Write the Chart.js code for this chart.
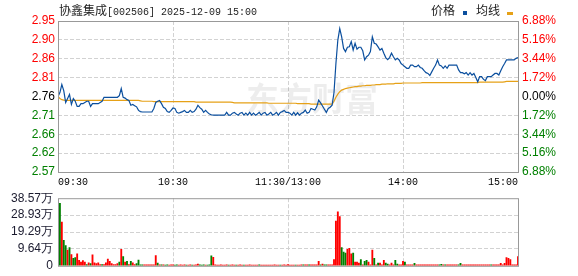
<!DOCTYPE html>
<html>
<head>
<meta charset="utf-8">
<script src="https://cdn.jsdelivr.net/npm/chart.js@4.4.1/dist/chart.umd.min.js"></script>
<style>
html, body { margin: 0; padding: 0; background: #fff; overflow: hidden; }
#wrap { position: relative; width: 578px; height: 276px; }
canvas { position: absolute; left: 0; }
#priceChart { top: 0; }
#volChart { top: 186px; }
.txt { position: absolute; white-space: nowrap; color: #222; font: 12px "Noto Sans CJK SC", sans-serif; line-height: 14px; }
.mono { font: 10px "Liberation Mono", monospace; }
.mark { position: absolute; }
</style>
</head>
<body>
<div id="wrap">
  <canvas id="priceChart" width="578" height="190"></canvas>
  <canvas id="volChart" width="578" height="92"></canvas>
  <div class="txt" style="left:59px;top:3px">协鑫集成<span class="mono">[002506] 2025-12-09 15:00</span></div>
  <div class="txt" style="left:431px;top:3px">价格</div>
  <div class="mark" style="left:463px;top:11px;width:4px;height:4px;background:#0b4f9e"></div>
  <div class="txt" style="left:476px;top:3px">均线</div>
  <div class="mark" style="left:507px;top:12px;width:6px;height:3px;background:#e6a117"></div>
</div>
<script>
// 协鑫集成 002506 分时 2025-12-09
const preClose = 2.76;
const priceRange = 0.19;   // max distance from pre-close shown on the axis
const volMax = 38.57;      // 万

const timeLabels = ['09:30', '10:30', '11:30/13:00', '14:00', '15:00'];
const priceLabels = ['2.57', '2.62', '2.66', '2.71', '2.76', '2.81', '2.86', '2.90', '2.95'];
const pctLabels = ['6.88%', '5.16%', '3.44%', '1.72%', '0.00%', '1.72%', '3.44%', '5.16%', '6.88%'];
const volLabels = ['0', '9.64万', '19.29万', '28.93万', '38.57万'];

// one value per minute, 241 minutes
const price = [
  2.76, 2.77, 2.79, 2.775, 2.745, 2.755, 2.765, 2.74, 2.755, 2.748,
  2.735, 2.735, 2.742, 2.742, 2.745, 2.748, 2.748, 2.735, 2.742, 2.742,
  2.742, 2.742, 2.745, 2.748, 2.758, 2.758, 2.758, 2.758, 2.758, 2.758,
  2.758, 2.758, 2.762, 2.78, 2.758, 2.756, 2.752, 2.75, 2.738, 2.74,
  2.737, 2.734, 2.725, 2.722, 2.721, 2.721, 2.721, 2.721, 2.721, 2.721,
  2.73, 2.745, 2.748, 2.75, 2.742, 2.733, 2.73, 2.722, 2.72, 2.725,
  2.731, 2.73, 2.72, 2.718, 2.72, 2.722, 2.725, 2.72, 2.72, 2.725,
  2.72, 2.722, 2.728, 2.738, 2.732, 2.728, 2.72, 2.725, 2.72, 2.716,
  2.714, 2.713, 2.713, 2.713, 2.713, 2.713, 2.713, 2.713, 2.72, 2.713,
  2.713, 2.718, 2.72, 2.716, 2.713, 2.718, 2.72, 2.713, 2.718, 2.713,
  2.72, 2.713, 2.718, 2.713, 2.716, 2.72, 2.713, 2.718, 2.72, 2.713,
  2.716, 2.72, 2.713, 2.716, 2.72, 2.713, 2.72, 2.722, 2.725, 2.72,
  2.72, 2.718, 2.713, 2.72, 2.713, 2.719, 2.713, 2.718, 2.72, 2.726,
  2.718, 2.72, 2.73, 2.728, 2.726, 2.734, 2.751, 2.744, 2.736, 2.728,
  2.72, 2.73, 2.733, 2.738, 2.77, 2.843, 2.902, 2.931, 2.91, 2.881,
  2.873, 2.884, 2.885, 2.898, 2.877, 2.894, 2.879, 2.884, 2.884, 2.875,
  2.852, 2.86, 2.864, 2.873, 2.91, 2.894, 2.892, 2.885, 2.877, 2.881,
  2.869, 2.858, 2.853, 2.858, 2.869, 2.86, 2.852, 2.856, 2.852, 2.843,
  2.839, 2.835, 2.831, 2.831, 2.839, 2.839, 2.835, 2.835, 2.839, 2.833,
  2.831, 2.825, 2.82, 2.818, 2.813, 2.822, 2.831, 2.839, 2.852, 2.839,
  2.837, 2.831, 2.837, 2.831, 2.839, 2.839, 2.839, 2.839, 2.839, 2.827,
  2.82, 2.82, 2.817, 2.82, 2.814, 2.82, 2.814, 2.818, 2.808, 2.797,
  2.81, 2.81, 2.803, 2.8, 2.81, 2.81, 2.81, 2.814, 2.818, 2.818,
  2.814, 2.825, 2.835, 2.843, 2.852, 2.852, 2.852, 2.852, 2.852, 2.856,
  2.858
];

const avgPrice = [
  2.76, 2.755, 2.752, 2.751, 2.75, 2.75, 2.75, 2.75, 2.75, 2.75,
  2.75, 2.75, 2.75, 2.75, 2.75, 2.75, 2.75, 2.75, 2.75, 2.75,
  2.75, 2.75, 2.75, 2.75, 2.75, 2.75, 2.75, 2.75, 2.75, 2.75,
  2.75, 2.75, 2.75, 2.75, 2.75, 2.75, 2.75, 2.75, 2.75, 2.75,
  2.75, 2.75, 2.75, 2.749, 2.748, 2.748, 2.748, 2.748, 2.748, 2.748,
  2.747, 2.747, 2.747, 2.747, 2.747, 2.747, 2.747, 2.747, 2.747, 2.747,
  2.747, 2.747, 2.747, 2.747, 2.747, 2.747, 2.747, 2.747, 2.747, 2.747,
  2.747, 2.747, 2.746, 2.746, 2.746, 2.746, 2.746, 2.746, 2.746, 2.746,
  2.746, 2.746, 2.746, 2.746, 2.746, 2.746, 2.746, 2.746, 2.746, 2.746,
  2.746, 2.745, 2.744, 2.744, 2.744, 2.744, 2.744, 2.744, 2.744, 2.744,
  2.744, 2.744, 2.744, 2.744, 2.744, 2.744, 2.744, 2.744, 2.744, 2.744,
  2.743, 2.743, 2.743, 2.743, 2.743, 2.743, 2.743, 2.743, 2.743, 2.743,
  2.743, 2.743, 2.743, 2.743, 2.743, 2.742, 2.742, 2.742, 2.742, 2.742,
  2.742, 2.742, 2.741, 2.741, 2.741, 2.741, 2.741, 2.741, 2.741, 2.741,
  2.741, 2.741, 2.741, 2.741, 2.748, 2.758, 2.766, 2.772, 2.776, 2.778,
  2.78, 2.781, 2.782, 2.783, 2.784, 2.785, 2.785, 2.786, 2.786, 2.787,
  2.787, 2.788, 2.788, 2.788, 2.789, 2.789, 2.79, 2.79, 2.79, 2.791,
  2.791, 2.791, 2.792, 2.792, 2.792, 2.792, 2.793, 2.793, 2.793, 2.793,
  2.794, 2.794, 2.794, 2.794, 2.794, 2.794, 2.794, 2.794, 2.794, 2.794,
  2.795, 2.795, 2.795, 2.795, 2.795, 2.795, 2.795, 2.795, 2.795, 2.795,
  2.795, 2.795, 2.795, 2.795, 2.795, 2.795, 2.795, 2.795, 2.795, 2.795,
  2.795, 2.795, 2.795, 2.795, 2.795, 2.795, 2.795, 2.795, 2.795, 2.795,
  2.796, 2.796, 2.796, 2.796, 2.796, 2.796, 2.796, 2.796, 2.796, 2.796,
  2.796, 2.796, 2.796, 2.797, 2.798, 2.798, 2.798, 2.798, 2.798, 2.798,
  2.798
];

// volume in 万 shares
const volume = [
  0, 35.6, 25.0, 14.6, 11.6, 9.0, 10.4, 6.4, 4.2, 4.7,
  6.9, 3.1, 2.1, 3.0, 2.1, 0.7, 1.7, 1.2, 6.3, 1.7,
  1.2, 1.7, 0.7, 0.7, 0.7, 1.7, 3.8, 2.6, 1.2, 0.7,
  0.7, 1.2, 2.1, 9.4, 5.2, 2.1, 2.6, 0.7, 2.6, 1.7,
  0.7, 1.2, 3.3, 0.5, 0.5, 0.5, 0.5, 0.5, 0.5, 0.5,
  0.5, 5.9, 1.6, 0.5, 0.5, 0.5, 0.4, 0.5, 0.4, 0.5,
  0.5, 0.4, 0.5, 0.4, 0.5, 0.4, 0.5, 0.4, 0.4, 0.5,
  0.4, 0.4, 0.5, 1.0, 0.5, 0.4, 0.5, 0.4, 0.4, 0.5,
  5.7, 4.9, 0.5, 0.4, 0.4, 0.5, 0.4, 0.4, 0.5, 0.4,
  0.4, 0.5, 0.4, 0.4, 0.4, 0.5, 0.4, 0.4, 0.4, 0.4,
  0.5, 0.4, 0.4, 0.4, 0.4, 0.5, 0.4, 0.4, 0.4, 0.4,
  0.4, 0.4, 0.4, 0.5, 0.4, 0.4, 0.4, 0.4, 0.5, 0.4,
  0.7, 0.4, 0.4, 0.4, 0.4, 0.4, 0.4, 0.5, 0.5, 0.5,
  0.5, 0.5, 0.5, 0.5, 0.5, 0.5, 2.6, 0.5, 1.0, 0.5,
  0.5, 0.5, 0.5, 0.5, 3.6, 25.5, 30.8, 28.1, 10.4, 7.8,
  7.3, 9.4, 9.9, 6.8, 7.3, 2.1, 2.1, 1.6, 3.6, 0.5,
  2.6, 3.1, 2.1, 0.5, 8.9, 4.2, 0.5, 1.6, 1.6, 0.5,
  3.1, 1.6, 1.0, 0.5, 1.6, 0.5, 3.1, 1.0, 0.5, 0.5,
  2.6, 2.1, 0.5, 0.5, 0.5, 0.5, 1.4, 0.5, 0.5, 0.5,
  0.5, 0.5, 0.5, 0.5, 0.5, 0.5, 0.5, 0.5, 0.5, 0.5,
  0.9, 0.5, 0.5, 0.5, 0.5, 0.5, 0.5, 0.5, 0.5, 0.5,
  1.4, 0.6, 0.5, 0.5, 0.5, 0.5, 0.5, 0.5, 0.5, 0.5,
  0.5, 0.5, 0.5, 0.5, 0.5, 0.5, 0.5, 0.5, 0.5, 0.5,
  0.6, 1.4, 0.6, 1.4, 4.7, 4.2, 3.5, 0.5, 0.5, 0.5,
  5.2
];

// r = up minute, g = down minute
const volSide = [
  'rgrggrgrgg', 'rrrrrgrgrr', 'rrrgrrrrrr', 'rrgrgrgrgr', 'rggggrrrrr',
  'rrgrgrggrr', 'rggrrrrgrr', 'grrrgggrgg', 'grrrrrrrrg', 'rrrgrrrgrr',
  'rrrrrgrrrr', 'rrrrrrgrrr', 'rrrrgrrrgr', 'rgrrrrrgrg', 'grrrrrrrgg',
  'grrrgrrrgr', 'ggrrrgrgrr', 'rggrrrggrr', 'rgrrrrgrrr', 'rrrrrrrrrg',
  'grgrrrrrrg', 'grrrrrrrrr', 'rrrrrrgrrr', 'rrrrrrrrrr', 'r'
].join('');

Chart.defaults.font.family = '"Liberation Sans", Arial, sans-serif';
Chart.defaults.font.size = 12;
Chart.defaults.animation = false;

const gridColor = '#d2d2d2';
const dash = [4, 2];
const up = '#ff0000', down = '#008000', flat = '#000000';
const none = 'rgba(0,0,0,0)';

const frame = {
  id: 'frame',
  afterDraw(chart) {
    const {ctx, chartArea: a} = chart;
    ctx.save();
    ctx.strokeStyle = '#999999';
    ctx.lineWidth = 1;
    ctx.strokeRect(a.left + 0.5, a.top + 0.5, a.right - a.left, a.bottom - a.top);
    ctx.restore();
  }
};

const watermark = {
  id: 'watermark',
  beforeDatasetsDraw(chart) {
    const {ctx} = chart;
    ctx.save();
    ctx.font = 'bold 33px "Noto Sans CJK SC"';
    ctx.fillStyle = 'rgba(0,0,0,0.07)';
    ctx.textBaseline = 'alphabetic';
    ctx.fillText('东方财富', 246, 111);
    ctx.restore();
  }
};

function edgeGrid(ctx) {
  const n = ctx.scale.ticks.length;
  return (ctx.index === 0 || ctx.index === n - 1) ? none : gridColor;
}

function sideColor(ctx) {
  if (ctx.index < 4) return down;
  if (ctx.index > 4) return up;
  return flat;
}

const priceTicks = priceLabels.map((_, k) => preClose - priceRange + k * priceRange / 4);
const pctTicks = pctLabels.map((_, k) => -6.884 + k * 6.884 / 4);
const timeTicks = timeLabels.map((_, k) => k * 60);
const volTicks = volLabels.map((_, k) => k * volMax / 4);

const xScale = (showLabels, height) => ({
  type: 'linear',
  min: 0,
  max: 240,
  offset: false,
  afterBuildTicks: (scale) => { scale.ticks = timeTicks.map(v => ({value: v})); },
  afterFit: (scale) => { scale.height = height; },
  grid: { color: edgeGrid, drawTicks: false, lineWidth: 1, offset: false },
  border: { display: false, dash: dash },
  ticks: {
    display: showLabels,
    autoSkip: false,
    maxRotation: 0,
    align: 'inner',
    padding: 4,
    color: '#000',
    font: { family: '"Liberation Mono", monospace', size: 10 },
    callback: (v, i) => timeLabels[i]
  }
});

new Chart(document.getElementById('priceChart'), {
  type: 'line',
  data: {
    datasets: [
      {
        label: '价格',
        data: price.map((p, i) => ({x: i, y: p})),
        borderColor: '#0b4f9e',
        borderWidth: 1.2,
        pointRadius: 0,
        yAxisID: 'y'
      },
      {
        label: '均线',
        data: avgPrice.map((p, i) => ({x: i, y: p})),
        borderColor: '#e6a117',
        borderWidth: 1.2,
        pointRadius: 0,
        yAxisID: 'y'
      }
    ]
  },
  options: {
    responsive: false,
    layout: { padding: { top: 21, left: 0, right: 0, bottom: 0 } },
    plugins: { legend: { display: false }, tooltip: { enabled: false } },
    scales: {
      x: xScale(true, 18),
      y: {
        position: 'left',
        min: priceTicks[0],
        max: priceTicks[priceTicks.length - 1],
        afterBuildTicks: (scale) => { scale.ticks = priceTicks.map(v => ({value: v})); },
        afterFit: (scale) => { scale.width = 58; },
        grid: {
          color: (ctx) => (ctx.index === 4 ? none : edgeGrid(ctx)),
          drawTicks: false
        },
        border: { display: false, dash: dash },
        ticks: { padding: 3, color: sideColor, callback: (v, i) => priceLabels[i] }
      },
      pct: {
        position: 'right',
        min: pctTicks[0],
        max: pctTicks[pctTicks.length - 1],
        afterBuildTicks: (scale) => { scale.ticks = pctTicks.map(v => ({value: v})); },
        afterFit: (scale) => { scale.width = 60; },
        grid: { drawOnChartArea: false, drawTicks: false },
        border: { display: false },
        ticks: { padding: 4, color: sideColor, callback: (v, i) => pctLabels[i] }
      }
    }
  },
  plugins: [watermark, frame]
});

new Chart(document.getElementById('volChart'), {
  type: 'bar',
  data: {
    datasets: [{
      label: '成交量',
      data: volume.map((v, i) => ({x: i, y: v})),
      backgroundColor: volume.map((v, i) => (volSide[i] === 'g' ? down : up)),
      borderWidth: 0,
      barThickness: 1.2,
      grouped: false
    }]
  },
  options: {
    responsive: false,
    layout: { padding: { top: 10, left: 0, right: 60, bottom: 0 } },
    plugins: { legend: { display: false }, tooltip: { enabled: false } },
    scales: {
      x: xScale(false, 8),
      y: {
        position: 'left',
        min: 0,
        max: volMax,
        afterBuildTicks: (scale) => { scale.ticks = volTicks.map(v => ({value: v})); },
        afterFit: (scale) => { scale.width = 58; },
        grid: { color: edgeGrid, drawTicks: false },
        border: { display: false, dash: dash },
        ticks: { padding: 5, color: '#1a1a2e', callback: (v, i) => volLabels[i] }
      }
    }
  },
  plugins: [frame]
});
</script>
</body>
</html>
